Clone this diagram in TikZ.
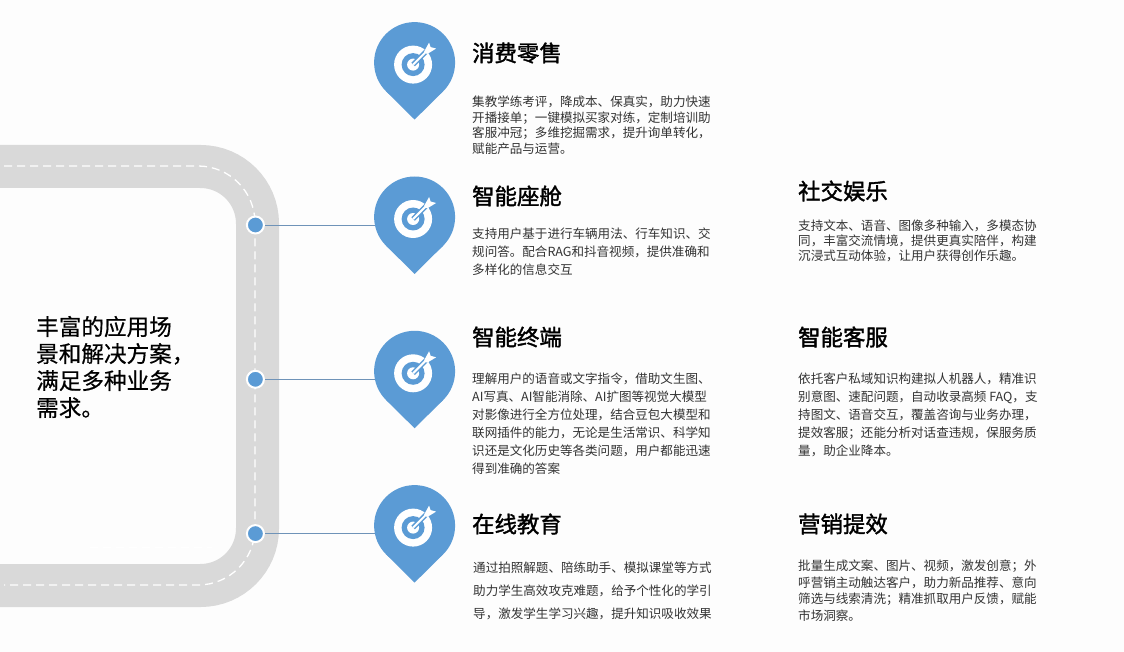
\documentclass[tikz,border=0pt]{standalone}
\usepackage{fontspec}
\setmainfont{Noto Sans CJK SC}
\newfontfamily\titlefont[FakeBold=1.6]{Noto Sans CJK SC}
\newfontfamily\leadfont[FakeBold=0.5]{Noto Sans CJK SC}
\definecolor{pinblue}{HTML}{5B9BD5}
\definecolor{roadgray}{HTML}{D9D9D9}
\definecolor{pagebg}{HTML}{FDFDFD}
\definecolor{bodyink}{HTML}{333333}
\definecolor{leadercol}{HTML}{6F93B8}
\tikzset{
  pinfill/.style={fill=pinblue,draw=none},
  road/.style={draw=roadgray,line width=43pt,rounded corners=57pt},
  roadmark/.style={draw=white,line width=1.3pt,rounded corners=57pt,dash pattern=on 8pt off 5pt},
  title/.style={font=\fontsize{22.4}{26}\titlefont,text=black,anchor=west,inner sep=0pt},
  bodytext/.style={font=\fontsize{12.55}{#1}\selectfont,text=bodyink,anchor=north west,align=left,inner sep=0pt},
  bodytext/.default=18,
  lead/.style={font=\fontsize{22.6}{27}\leadfont,text=black,anchor=west,align=left,inner sep=0pt},
  stop/.style={circle,fill=pinblue,draw=white,line width=2pt,minimum size=17pt,inner sep=0pt},
  leader/.style={draw=leadercol,line width=0.7pt},
}
\begin{document}
\begin{tikzpicture}[x=1pt,y=-1pt]
\useasboundingbox (0,0) rectangle (1124,652);
\fill[pagebg] (0,0) rectangle (1124,652);
% road
\draw[road] (-30,166.5) -- (257.5,166.5) -- (257.5,585.5) -- (-30,585.5);
\draw[roadmark] (4,166) -- (255,166) -- (255,585) -- (4,585);
\draw[white,line width=1pt,dash pattern=on 8pt off 5pt] (90,547) -- (212,547);
% lead text
\node[lead] (lead) at (36,367) {丰富的应用场\\景和解决方案，\\满足多种业务\\需求。};
% pins
\foreach \n/\py/\hasstop in {a/62.6/0,b/217/1,c/371.3/1,d/525.6/1}{
  \begin{scope}[shift={(414.6,\py)}]
    \ifnum\hasstop=1
      \node[stop] (stop\n) at (-159.2,8) {};
      \coordinate (pin\n) at (0,8);
      \draw[leader] (stop\n.east) -- (pin\n);
    \fi
    \fill[pinfill] (0,0) circle (40.5);
    \fill[pinfill] (-28.6,28.6) -- (0,57) -- (28.6,28.6) -- cycle;
    % target icon
    \fill[white] (-1.5,2) circle (19);
    \fill[pinblue] (-1.5,2) circle (11.5);
    \fill[white] (-1.5,2) circle (6);
    \draw[pinblue,line width=5pt] (-1.5,2) -- (12,-11.5);
    \draw[white,line width=2pt] (-1.5,2) -- (14,-13.5);
    \fill[white] (9.5,-11) -- (14.5,-20) -- (16,-15.5) -- (21.5,-14) -- (12.5,-8.5) -- cycle;
  \end{scope}
}
% titles
\node[title] (t1) at (472,53) {消费零售};
\node[title] (t2) at (472,196) {智能座舱};
\node[title] (t3) at (472,337) {智能终端};
\node[title] (t4) at (472,524) {在线教育};
\node[title] (t5) at (798,191) {社交娱乐};
\node[title] (t6) at (798,337) {智能客服};
\node[title] (t7) at (798,524) {营销提效};
% bodies
\node[bodytext=15.5] (b1) at (472,96) {集教学练考评，降成本、保真实，助力快速\\开播接单；一键模拟买家对练，定制培训助\\客服冲冠；多维挖掘需求，提升询单转化，\\赋能产品与运营。};
\node[bodytext=18] (b2) at (472,227.5) {支持用户基于进行车辆用法、行车知识、交\\规问答。配合RAG和抖音视频，提供准确和\\多样化的信息交互};
\node[bodytext=18] (b3) at (472,372.5) {理解用户的语音或文字指令，借助文生图、\\AI写真、AI智能消除、AI扩图等视觉大模型\\对影像进行全方位处理，结合豆包大模型和\\联网插件的能力，无论是生活常识、科学知\\识还是文化历史等各类问题，用户都能迅速\\得到准确的答案};
\node[bodytext=23] (b4) at (473,561.5) {通过拍照解题、陪练助手、模拟课堂等方式\\助力学生高效攻克难题，给予个性化的学引\\导，激发学生学习兴趣，提升知识吸收效果};
\node[bodytext=15] (b5) at (798,220) {支持文本、语音、图像多种输入，多模态协\\同，丰富交流情境，提供更真实陪伴，构建\\沉浸式互动体验，让用户获得创作乐趣。};
\node[bodytext=18] (b6) at (798,373) {依托客户私域知识构建拟人机器人，精准识\\别意图、速配问题，自动收录高频 FAQ，支\\持图文、语音交互，覆盖咨询与业务办理，\\提效客服；还能分析对话查违规，保服务质\\量，助企业降本。};
\node[bodytext=16.7] (b7) at (798,559.5) {批量生成文案、图片、视频，激发创意；外\\呼营销主动触达客户，助力新品推荐、意向\\筛选与线索清洗；精准抓取用户反馈，赋能\\市场洞察。};
\end{tikzpicture}
\end{document}
